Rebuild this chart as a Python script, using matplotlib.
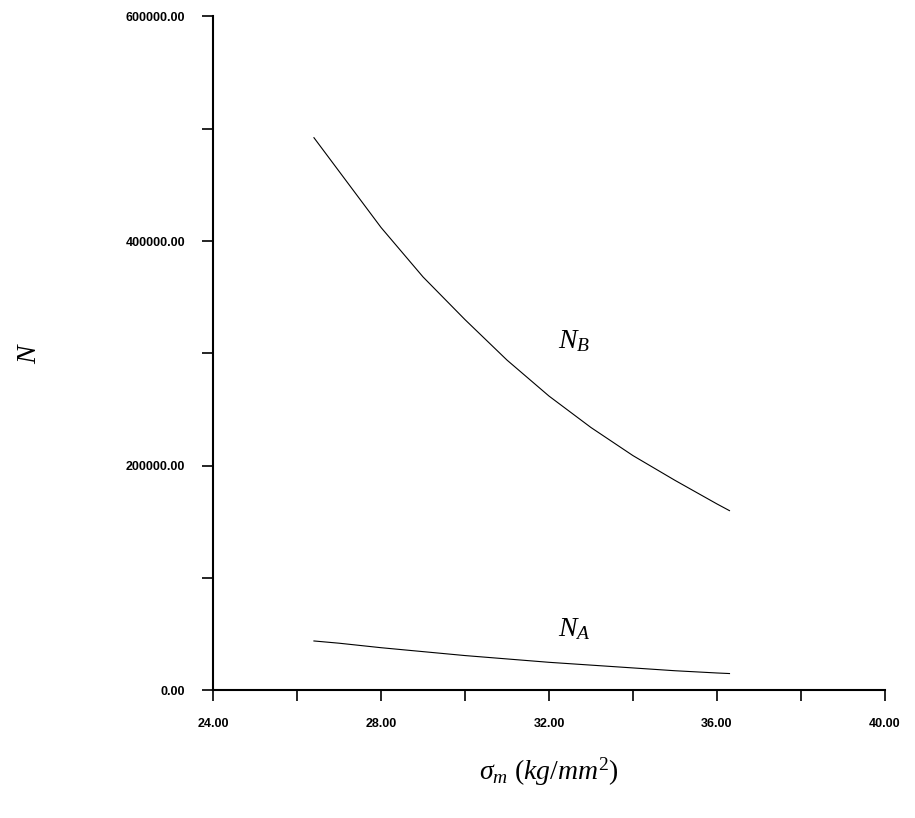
import matplotlib
matplotlib.use("Agg")
import matplotlib.pyplot as plt
from matplotlib.ticker import MultipleLocator, FormatStrFormatter

plt.rcParams["mathtext.fontset"] = "custom"
plt.rcParams["mathtext.it"] = "Liberation Serif:italic"
plt.rcParams["mathtext.rm"] = "Liberation Serif"
plt.rcParams["font.family"] = "Liberation Sans"

# stress values (kg/mm^2)
sigma = [26.4, 27, 28, 29, 30, 31, 32, 33, 34, 35, 36, 36.3]
# life curves
n_b = [492000, 462000, 412000, 368000, 330000, 294000, 262000, 234000, 209000, 187000, 166000, 160000]
n_a = [44000, 42000, 38000, 34500, 31000, 28000, 25000, 22500, 20000, 17500, 15500, 15000]

fig = plt.figure(figsize=(9.15, 8.18), dpi=100)
ax = fig.add_axes([0.233, 0.156, 0.734, 0.824])

ax.plot(sigma, n_b, color="black", lw=0.8)
ax.plot(sigma, n_a, color="black", lw=0.8)

ax.set_xlim(24, 40)
ax.set_ylim(0, 600000)
for s in ("top", "right"):
    ax.spines[s].set_visible(False)
ax.spines["left"].set_linewidth(1.5)
ax.spines["bottom"].set_linewidth(1.5)

ax.xaxis.set_major_locator(MultipleLocator(4))
ax.xaxis.set_minor_locator(MultipleLocator(2))
ax.yaxis.set_major_locator(MultipleLocator(200000))
ax.yaxis.set_minor_locator(MultipleLocator(100000))
ax.xaxis.set_major_formatter(FormatStrFormatter("%.2f"))
ax.yaxis.set_major_formatter(FormatStrFormatter("%.2f"))
ax.tick_params(which="both", direction="out", width=1.2)
ax.tick_params(which="major", length=8, labelsize=9, pad=12)
ax.tick_params(which="minor", length=8)
for lbl in ax.get_xticklabels() + ax.get_yticklabels():
    lbl.set_fontweight("bold")

ax.text(32.6, 305000, r"$N_B$", fontsize=20, ha="center")
ax.text(32.6, 48000, r"$N_A$", fontsize=20, ha="center")
ax.set_xlabel(r"$\sigma_m\ (kg/mm^2)$", fontsize=20, labelpad=18)
ax.set_ylabel(r"$N$", fontsize=20, labelpad=60)

fig.savefig("out.png", dpi=100)
